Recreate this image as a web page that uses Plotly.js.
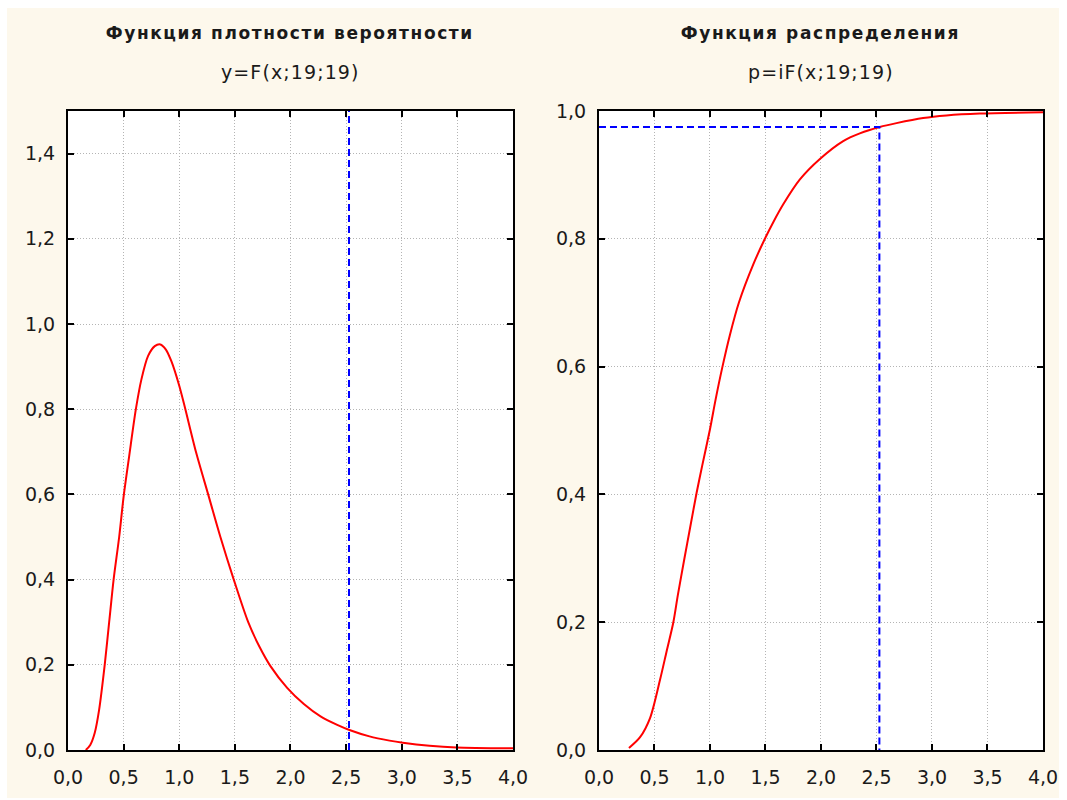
<!DOCTYPE html>
<html><head><meta charset="utf-8">
<script src="https://cdn.plot.ly/plotly-3.0.1.min.js"></script>
<style>
html,body{margin:0;padding:0;background:#ffffff;}
#chart{position:absolute;left:7px;top:8px;width:1052px;height:790px;}
.annotation-text{letter-spacing:1.1px;}
g.annotation[data-index="0"] .annotation-text,
g.annotation[data-index="2"] .annotation-text{letter-spacing:1.6px;}
</style>
</head><body>
<div id="chart"></div>
<script>
// Density curve y = F(x;19;19)
const pdfX = [0.16,0.20,0.24,0.28,0.33,0.37,0.41,0.46,0.50,0.55,0.61,0.66,0.72,0.78,0.83,0.88,0.93,1.00,1.05,1.15,1.26,1.37,1.49,1.62,1.72,1.82,1.97,2.12,2.27,2.42,2.53,2.71,2.89,3.01,3.25,3.49,4.00];
const pdfY = [0.000,0.012,0.040,0.095,0.200,0.300,0.400,0.500,0.595,0.690,0.800,0.870,0.925,0.948,0.952,0.940,0.912,0.855,0.805,0.700,0.600,0.500,0.400,0.300,0.243,0.197,0.146,0.108,0.079,0.059,0.047,0.032,0.022,0.017,0.010,0.006,0.004];
// Distribution function p = iF(x;19;19)
const cdfX = [0.27,0.37,0.46,0.55,0.61,0.67,0.71,0.77,0.82,0.88,0.93,1.00,1.05,1.11,1.18,1.26,1.39,1.50,1.57,1.66,1.81,1.99,2.20,2.35,2.53,2.68,2.92,3.13,3.43,4.00];
const cdfP = [0.003,0.020,0.050,0.110,0.155,0.200,0.242,0.300,0.347,0.403,0.445,0.502,0.548,0.598,0.650,0.700,0.760,0.802,0.826,0.854,0.893,0.925,0.953,0.965,0.975,0.981,0.989,0.993,0.996,0.998];
// Critical value and probability
const critX = 2.526;
const critP = 0.975;
// Titles
const leftTitle = ["Функция плотности вероятности", "y=F(x;19;19)"];
const rightTitle = ["Функция распределения", "p=iF(x;19;19)"];
// Tick values
const xTicks = [0,0.5,1,1.5,2,2.5,3,3.5,4];
const yTicksLeft = [0,0.2,0.4,0.6,0.8,1.0,1.2,1.4];
const yTicksRight = [0,0.2,0.4,0.6,0.8,1.0];

const red = '#ff0000', blue = '#0000ff';
const traces = [
  {x: pdfX, y: pdfY, xaxis:'x', yaxis:'y', mode:'lines', line:{color:red, width:2, shape:'spline', smoothing:0.8}, hoverinfo:'skip'},
  {x: [critX, critX], y: [0, 1.5], xaxis:'x', yaxis:'y', mode:'lines', line:{color:blue, width:2, dash:'7px,4px'}, hoverinfo:'skip'},
  {x: cdfX, y: cdfP, xaxis:'x2', yaxis:'y2', mode:'lines', line:{color:red, width:2, shape:'spline', smoothing:0.8}, hoverinfo:'skip'},
  {x: [0, critX, critX], y: [critP, critP, 0], xaxis:'x2', yaxis:'y2', mode:'lines', line:{color:blue, width:2, dash:'7px,4px'}, hoverinfo:'skip'}
];

const tickFont = {family:'DejaVu Sans', size:19, color:'#1a1a1a'};
function xAxis(domain, anchor){
  return {domain:domain, anchor:anchor, range:[0,4], tickvals:xTicks, tickformat:'.1f',
    showline:true, linecolor:'#000', linewidth:2, mirror:'ticks',
    ticks:'inside', ticklen:6, tickwidth:2, tickcolor:'#000',
    showgrid:true, gridcolor:'#b4b4b4', gridwidth:1, griddash:'1px,2px',
    zeroline:false, tickfont:tickFont, ticklabelstandoff:9, fixedrange:true};
}
function yAxis(range, ticks, anchor){
  return {domain:[0,1], anchor:anchor, range:range, tickvals:ticks, tickformat:'.1f',
    showline:true, linecolor:'#000', linewidth:2, mirror:'ticks',
    ticks:'inside', ticklen:6, tickwidth:2, tickcolor:'#000',
    showgrid:true, gridcolor:'#b4b4b4', gridwidth:1, griddash:'1px,2px',
    zeroline:false, tickfont:tickFont, ticklabelstandoff:7, fixedrange:true};
}
const d1 = [0, 0.4564], d2 = [0.5446, 1];
const t1Font = {family:'DejaVu Sans', size:17, color:'#1a1a1a', weight:'bold'};
const t2Font = {family:'DejaVu Sans', size:19, color:'#1a1a1a'};
const annotations = [
  {text:leftTitle[0], x:(d1[0]+d1[1])/2, y:1.122, xref:'paper', yref:'paper', showarrow:false, xanchor:'center', yanchor:'middle', font:t1Font},
  {text:leftTitle[1], x:(d1[0]+d1[1])/2, y:1.061, xref:'paper', yref:'paper', showarrow:false, xanchor:'center', yanchor:'middle', font:t2Font},
  {text:rightTitle[0], x:(d2[0]+d2[1])/2, y:1.122, xref:'paper', yref:'paper', showarrow:false, xanchor:'center', yanchor:'middle', font:t1Font},
  {text:rightTitle[1], x:(d2[0]+d2[1])/2, y:1.061, xref:'paper', yref:'paper', showarrow:false, xanchor:'center', yanchor:'middle', font:t2Font}
];
const layout = {
  width:1052, height:790,
  margin:{l:61, r:16, t:103, b:48},
  paper_bgcolor:'#fdf8ec', plot_bgcolor:'#ffffff',
  showlegend:false, separators:', ',
  xaxis: xAxis(d1,'y'), yaxis: yAxis([0,1.5], yTicksLeft, 'x'),
  xaxis2: xAxis(d2,'y2'), yaxis2: yAxis([0,1.0], yTicksRight, 'x2'),
  annotations: annotations
};
Plotly.newPlot('chart', traces, layout, {displayModeBar:false, staticPlot:true});
</script>
</body></html>
